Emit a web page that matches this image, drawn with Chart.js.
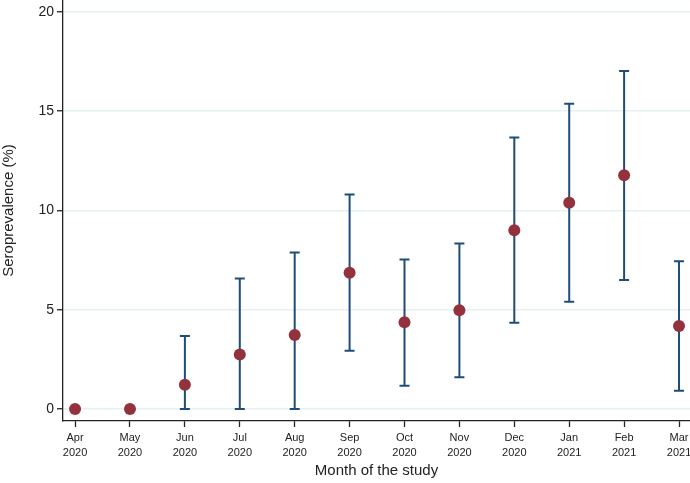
<!DOCTYPE html>
<html>
<head>
<meta charset="utf-8">
<script src="https://cdn.jsdelivr.net/npm/chart.js@4"></script>
<style>
    html, body { margin: 0; padding: 0; background: #fff; }
    #wrap { width: 690px; height: 483px; }
</style>
</head>
<body>
<div id="wrap"><canvas id="seroChart"></canvas></div>
<script>
// Datos
const months = ['Apr', 'May', 'Jun', 'Jul', 'Aug', 'Sep', 'Oct', 'Nov', 'Dec', 'Jan', 'Feb', 'Mar'];
const years = ['2020', '2020', '2020', '2020', '2020', '2020', '2020', '2020', '2020', '2021', '2021', '2021'];
const prevalence = [0, 0, 1.22, 2.75, 3.73, 6.87, 4.37, 4.98, 9.0, 10.39, 11.77, 4.18];
const lowerCI = [null, null, 0, 0, 0, 2.94, 1.18, 1.6, 4.35, 5.4, 6.5, 0.92];
const upperCI = [null, null, 3.68, 6.58, 7.89, 10.8, 7.53, 8.34, 13.68, 15.37, 17.03, 7.44];
const yTicks = [0, 5, 10, 15, 20];

const pointColor = '#93323c';
const barColor = '#1f4d7a';

// Plugin para dibujar los intervalos de confianza
const errorBars = {
    id: 'errorBars',
    beforeDatasetsDraw(chart) {
        const ctx = chart.ctx;
        const xs = chart.scales.x;
        const ys = chart.scales.y;
        ctx.save();
        ctx.strokeStyle = barColor;
        ctx.lineWidth = 2;
        for (let i = 0; i < months.length; i++) {
            if (lowerCI[i] === null) continue;
            const x = xs.getPixelForValue(i);
            const yLo = ys.getPixelForValue(lowerCI[i]);
            const yHi = ys.getPixelForValue(upperCI[i]);
            ctx.beginPath();
            ctx.moveTo(x, yLo);
            ctx.lineTo(x, yHi);
            ctx.moveTo(x - 5, yLo);
            ctx.lineTo(x + 5, yLo);
            ctx.moveTo(x - 5, yHi);
            ctx.lineTo(x + 5, yHi);
            ctx.stroke();
        }
        ctx.restore();
    }
};

const ctx = document.getElementById('seroChart').getContext('2d');
const seroChart = new Chart(ctx, {
    type: 'scatter',
    data: {
        datasets: [{
            data: prevalence.map((v, i) => ({ x: i, y: v })),
            backgroundColor: pointColor,
            borderColor: pointColor,
            pointRadius: 6,
            pointHoverRadius: 6,
            borderWidth: 0
        }]
    },
    options: {
        responsive: true,
        maintainAspectRatio: false,
        animation: false,
        layout: { padding: 0, autoPadding: false },
        plugins: {
            legend: { display: false },
            tooltip: { enabled: false }
        },
        scales: {
            x: {
                type: 'linear',
                min: -0.22,
                max: 11.2,
                afterBuildTicks: (scale) => {
                    scale.ticks = months.map((m, i) => ({ value: i }));
                },
                afterFit: (scale) => {
                    scale.height = 62;
                    scale.paddingLeft = 0;
                    scale.paddingRight = 0;
                },
                grid: {
                    drawOnChartArea: false,
                    tickLength: 6,
                    tickColor: '#222',
                    tickWidth: 1.3
                },
                border: { color: '#222', width: 1.3 },
                ticks: {
                    autoSkip: false,
                    maxRotation: 0,
                    padding: 4,
                    color: '#222',
                    font: { family: 'Liberation Sans', size: 11, lineHeight: 1.35 },
                    callback: (value) => [months[value], years[value]]
                },
                title: {
                    display: true,
                    text: 'Month of the study',
                    color: '#222',
                    font: { family: 'Liberation Sans', size: 15 },
                    padding: { top: 2, bottom: 3 }
                }
            },
            y: {
                min: -0.6,
                max: 20.6,
                afterBuildTicks: (scale) => {
                    scale.ticks = yTicks.map(v => ({ value: v }));
                },
                afterFit: (scale) => {
                    scale.width = 63;
                    scale.paddingTop = 0;
                    scale.paddingBottom = 0;
                },
                grid: {
                    color: '#e6eff2',
                    lineWidth: 1.5,
                    tickLength: 6,
                    tickColor: '#222',
                    tickWidth: 1.3
                },
                border: { color: '#222', width: 1.3 },
                ticks: {
                    padding: 3,
                    color: '#222',
                    font: { family: 'Liberation Sans', size: 14 }
                },
                title: {
                    display: true,
                    text: 'Seroprevalence (%)',
                    color: '#222',
                    font: { family: 'Liberation Sans', size: 15 },
                    padding: { top: 0, bottom: 4 }
                }
            }
        }
    },
    plugins: [errorBars]
});
</script>
</body>
</html>
